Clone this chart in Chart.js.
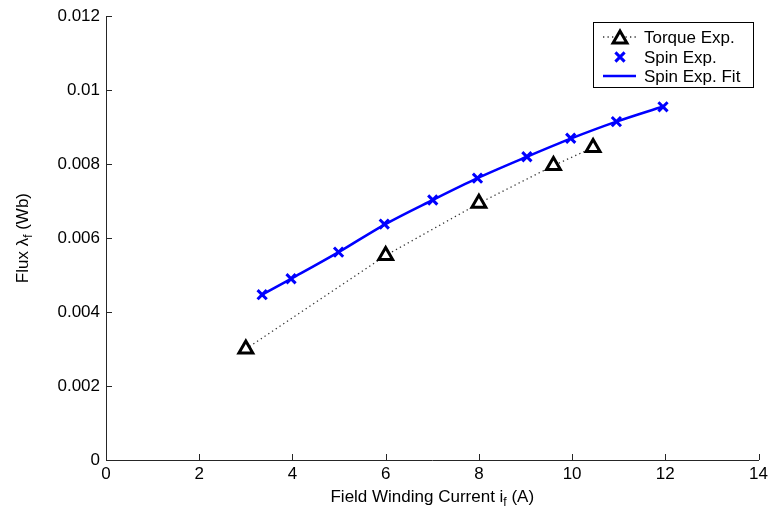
<!DOCTYPE html>
<html><head><meta charset="utf-8">
<script src="https://cdn.jsdelivr.net/npm/chart.js@4/dist/chart.umd.min.js"></script>
<style>html,body{margin:0;padding:0;background:#fff}#wrap{width:772px;height:508px}</style>
</head><body><div id="wrap"><canvas id="c" width="772" height="508"></canvas></div>
<script>
const torqueX = [3, 6, 8, 9.6, 10.45];
const torqueY = [0.0030, 0.00553, 0.00694, 0.00796, 0.00845];
const spinX = [3.35, 3.97, 4.99, 5.97, 7.01, 7.97, 9.03, 9.97, 10.95, 11.95];
const spinY = [0.00447, 0.00490, 0.00562, 0.00638, 0.00703, 0.00762, 0.00820, 0.00870, 0.00915, 0.00955];
const fitX = [3.35, 3.97, 4.99, 5.97, 7.01, 7.97, 9.03, 9.97, 10.95, 11.95];
const fitY = [0.00447, 0.00490, 0.00562, 0.00636, 0.00703, 0.00762, 0.00820, 0.00869, 0.00915, 0.00956];
const xTicks = [0, 2, 4, 6, 8, 10, 12, 14];
const yTicks = [0, 0.002, 0.004, 0.006, 0.008, 0.01, 0.012];
const legendLabels = ['Torque Exp.', 'Spin Exp.', 'Spin Exp. Fit'];

const FONT = '"Liberation Sans", Arial, sans-serif';
const FS = 17;
const pts = (xs, ys) => xs.map((x, i) => ({x, y: ys[i]}));

function drawSubText(ctx, parts, x, y, align) {
  let w = 0;
  parts.forEach(p => { ctx.font = (p.sub ? 12 : FS) + 'px ' + FONT; w += ctx.measureText(p.t).width; });
  let cx = align === 'center' ? x - w / 2 : x;
  parts.forEach(p => {
    ctx.font = (p.sub ? 12 : FS) + 'px ' + FONT;
    ctx.textAlign = 'left'; ctx.textBaseline = 'alphabetic';
    ctx.fillText(p.t, cx, y + (p.sub ? 4 : 0));
    cx += ctx.measureText(p.t).width;
  });
}

function tri(ctx, x, y, r, lw) {
  ctx.fillStyle = '#fff'; ctx.strokeStyle = '#000'; ctx.lineWidth = lw; ctx.lineJoin = 'miter';
  ctx.beginPath();
  ctx.moveTo(x, y - r); ctx.lineTo(x + r * 0.866, y + r * 0.5); ctx.lineTo(x - r * 0.866, y + r * 0.5); ctx.closePath();
  ctx.fill(); ctx.stroke();
}

const extras = {
  id: 'extras',
  afterDraw(chart) {
    const ctx = chart.ctx, xs = chart.scales.x, ys = chart.scales.y, ca = chart.chartArea;
    ctx.save();
    ctx.strokeStyle = '#262626'; ctx.lineWidth = 1;
    xTicks.forEach(v => { const px = Math.round(xs.getPixelForValue(v)) + 0.5; ctx.beginPath(); ctx.moveTo(px, ca.bottom); ctx.lineTo(px, ca.bottom - 6); ctx.stroke(); });
    yTicks.forEach(v => { const py = Math.round(ys.getPixelForValue(v)) + 0.5; ctx.beginPath(); ctx.moveTo(ca.left, py); ctx.lineTo(ca.left + 6, py); ctx.stroke(); });
    ctx.fillStyle = '#000';
    drawSubText(ctx, [{t: 'Field Winding Current i'}, {t: 'f', sub: true}, {t: ' (A)'}], (ca.left + ca.right) / 2, 502, 'center');
    ctx.save();
    ctx.translate(28, (ca.top + ca.bottom) / 2);
    ctx.rotate(-Math.PI / 2);
    drawSubText(ctx, [{t: 'Flux \u03bb'}, {t: 'f', sub: true}, {t: ' (Wb)'}], 0, 0, 'center');
    ctx.restore();
    // legend
    const bx = 593, by = 22, bw = 160, bh = 65;
    ctx.fillStyle = '#fff'; ctx.fillRect(bx, by, bw, bh);
    ctx.strokeStyle = '#000'; ctx.lineWidth = 1; ctx.strokeRect(bx + 0.5, by + 0.5, bw, bh);
    const rows = [37, 57, 76];
    const ds = chart.data.datasets;
    const sx = 620;
    ctx.strokeStyle = '#333'; ctx.lineWidth = ds[0].borderWidth; ctx.setLineDash(ds[0].borderDash);
    ctx.beginPath(); ctx.moveTo(603, rows[0]); ctx.lineTo(637, rows[0]); ctx.stroke(); ctx.setLineDash([]);
    tri(ctx, sx, rows[0] + 2, ds[0].pointRadius, ds[0].pointBorderWidth);
    ctx.strokeStyle = ds[1].pointBorderColor; ctx.fillStyle = ds[1].pointBorderColor; ctx.lineWidth = ds[1].pointBorderWidth;
    Chart.helpers.drawPoint(ctx, {pointStyle: 'crossRot', radius: ds[1].pointRadius, borderWidth: ds[1].pointBorderWidth, rotation: 0}, sx, rows[1]);
    ctx.strokeStyle = ds[2].borderColor; ctx.lineWidth = ds[2].borderWidth;
    ctx.beginPath(); ctx.moveTo(603, rows[2]); ctx.lineTo(636, rows[2]); ctx.stroke();
    ctx.fillStyle = '#000'; ctx.font = FS + 'px ' + FONT; ctx.textAlign = 'left'; ctx.textBaseline = 'middle';
    legendLabels.forEach((l, i) => ctx.fillText(l, 644, rows[i] + 1));
    ctx.restore();
  }
};

new Chart(document.getElementById('c'), {
  type: 'scatter',
  data: {
    datasets: [
      {label: legendLabels[0], data: pts(torqueX, torqueY), showLine: true, borderColor: '#333', borderWidth: 1.3, borderDash: [1.3, 3.2],
       pointStyle: 'triangle', pointRadius: 8, pointBorderWidth: 3, pointBackgroundColor: '#fff', pointBorderColor: '#000', order: 3},
      {label: legendLabels[1], data: pts(spinX, spinY), showLine: false, pointStyle: 'crossRot', pointRadius: 6.5,
       pointBorderWidth: 3, pointBorderColor: '#0000ff', pointBackgroundColor: '#0000ff', order: 1},
      {label: legendLabels[2], data: pts(fitX, fitY), showLine: true, borderColor: '#0000ff', borderWidth: 2.6,
       pointRadius: 0, cubicInterpolationMode: 'monotone', order: 2}
    ]
  },
  options: {
    responsive: false, animation: false, devicePixelRatio: 1,
    layout: {padding: {top: 15, right: 9, left: 0, bottom: 0}},
    plugins: {legend: {display: false}, tooltip: {enabled: false}},
    scales: {
      x: {type: 'linear', min: 0, max: 14,
          afterBuildTicks: s => { s.ticks = xTicks.map(v => ({value: v})); },
          afterFit: s => { s.height = 48; },
          grid: {display: false, drawTicks: false},
          border: {display: true, color: '#262626', width: 1},
          ticks: {color: '#000', font: {family: FONT, size: FS}, padding: 4, maxRotation: 0, callback: v => String(v)}},
      y: {type: 'linear', min: 0, max: 0.012,
          afterBuildTicks: s => { s.ticks = yTicks.map(v => ({value: v})); },
          afterFit: s => { s.width = 106; },
          grid: {display: false, drawTicks: false},
          border: {display: true, color: '#262626', width: 1},
          ticks: {color: '#000', font: {family: FONT, size: FS}, padding: 6, callback: v => String(+v.toFixed(3))}}
    }
  },
  plugins: [extras]
});
</script></body></html>
